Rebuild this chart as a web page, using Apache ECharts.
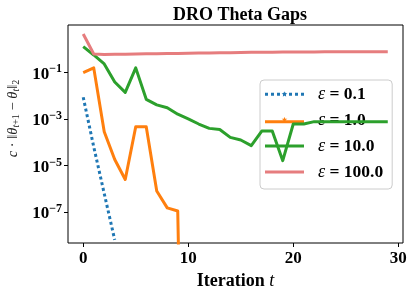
<!DOCTYPE html>
<html><head><meta charset="utf-8">
<script src="https://cdn.jsdelivr.net/npm/echarts@6/dist/echarts.min.js"></script>
<style>html,body{margin:0;padding:0;background:#fff}#c{width:414px;height:295px}</style>
</head><body><div id="c"></div>
<script>
// ---- data ----
const iterations = [0,1,2,3,4,5,6,7,8,9,10,11,12,13,14,15,16,17,18,19,20,21,22,23,24,25,26,27,28,29];
const epsilonLabels = ['0.1', '1.0', '10.0', '100.0'];
const gapEps01 = [8.5e-3, 6.3e-5, 6.2e-7, 6.3e-9];
const gapEps1 = [0.098, 0.155, 2.8e-4, 1.8e-5, 2.5e-6, 4.6e-4, 4.6e-4, 7.9e-7, 1.5e-7, 1.1e-7, 1e-30];
const gapEps10 = [1.27, 0.556, 0.229, 0.0385, 0.0138, 0.155, 6.9e-3, 4.0e-3, 3.0e-3, 1.58e-3,
  1.0e-3, 6.0e-4, 3.9e-4, 3.5e-4, 1.6e-4, 1.23e-4, 7.1e-5, 3.0e-4, 3.0e-4, 1.6e-5,
  6.0e-4, 6.0e-4, 7.6e-4, 7.6e-4, 7.6e-4, 7.6e-4, 7.6e-4, 7.6e-4, 7.6e-4, 7.6e-4];
const gapEps100 = [4.45, 0.61, 0.575, 0.59, 0.60, 0.61, 0.62, 0.63, 0.64, 0.65,
  0.66, 0.67, 0.68, 0.69, 0.70, 0.71, 0.72, 0.72, 0.73, 0.74,
  0.74, 0.75, 0.75, 0.76, 0.76, 0.76, 0.77, 0.77, 0.77, 0.77];
const xTickLabels = [0, 10, 20, 30];
const yTickExponents = [-7, -5, -3, -1];

// ---- chart ----
const SERIF = '"Liberation Serif", "DejaVu Serif", serif';
const yTicks = yTickExponents.map(e => Math.pow(10, e));
const colors = ['#1f77b4', '#ff7f0e', '#2ca02c', '#e67d7e'];
const seriesValues = [gapEps01, gapEps1, gapEps10, gapEps100];
const names = epsilonLabels.map(l => 'ε = ' + l);

function starPath(cx, cy, ro, ri) {
  let d = '';
  for (let k = 0; k < 10; k++) {
    const r = k % 2 === 0 ? ro : ri;
    const a = -Math.PI / 2 + k * Math.PI / 5;
    d += (k === 0 ? 'M' : 'L') + (cx + r * Math.cos(a)).toFixed(2) + ',' + (cy + r * Math.sin(a)).toFixed(2);
  }
  return d + 'Z';
}
let dotted = '';
for (let k = 0; k < 7; k++) { const x0 = k * 6; dotted += 'M' + x0 + ',0H' + (x0 + 3) + 'V3H' + x0 + 'Z'; }
const icons = [
  'path://' + dotted + starPath(19.5, 1.5, 3, 1.2),
  'path://M0,0H39V3H0Z' + starPath(19.5, -0.5, 3, 1.2),
  'path://M0,0H39V3H0Z',
  'path://M0,0H39V3H0Z'
];

const chart = echarts.init(document.getElementById('c'), null, {renderer: 'canvas'});
chart.setOption({
  animation: false,
  backgroundColor: '#fff',
  title: {
    text: 'DRO Theta Gaps', left: 235, top: 1, textAlign: 'center',
    textStyle: {fontFamily: SERIF, fontWeight: 'bold', fontSize: 18, color: '#000'}
  },
  grid: {left: 68, right: 11, top: 25, bottom: 52, show: true, borderColor: '#000', borderWidth: 1,
    containLabel: false, outerBoundsMode: 'none'},
  legend: {
    orient: 'vertical', left: 260, top: 80, z: 1,
    padding: [4, 9, 7, 5], itemGap: 6, itemWidth: 39, itemHeight: 14,
    backgroundColor: 'rgba(255,255,255,0.8)', borderColor: '#cccccc', borderWidth: 1, borderRadius: 4,
    itemStyle: {borderWidth: 0},
    data: names.map((n, i) => ({name: n, icon: icons[i]})),
    formatter: name => { const i = names.indexOf(name); return '{e|ε}{b| = ' + epsilonLabels[i] + '}'; },
    textStyle: {
      fontFamily: SERIF, color: '#000', lineHeight: 20,
      rich: {
        e: {fontFamily: SERIF, fontStyle: 'italic', fontWeight: 'normal', fontSize: 18, lineHeight: 20, padding: [0, 0, 0, 9], color: '#000'},
        b: {fontFamily: SERIF, fontWeight: 'bold', fontSize: 17.5, lineHeight: 20, color: '#000'}
      }
    }
  },
  xAxis: {
    type: 'value', min: -1.45, max: 30.45,
    axisLine: {show: false, onZero: false}, splitLine: {show: false},
    axisTick: {show: true, length: 4, customValues: xTickLabels, lineStyle: {color: '#000', width: 1}},
    axisLabel: {customValues: xTickLabels, margin: 7, fontFamily: SERIF, fontWeight: 'bold', fontSize: 17, color: '#000'},
    name: '{b|Iteration }{i|t}', nameLocation: 'middle', nameGap: 25,
    nameTextStyle: {
      rich: {
        b: {fontFamily: SERIF, fontWeight: 'bold', fontSize: 18, color: '#000'},
        i: {fontFamily: SERIF, fontStyle: 'italic', fontWeight: 'normal', fontSize: 18, color: '#000'}
      }
    }
  },
  yAxis: {
    type: 'log', logBase: 10, min: Math.pow(10, -8.333), max: Math.pow(10, 1.032),
    axisLine: {show: false, onZero: false}, splitLine: {show: false},
    axisTick: {show: true, length: 4, customValues: yTicks, lineStyle: {color: '#000', width: 1}},
    axisLabel: {
      customValues: yTicks, margin: 6,
      formatter: v => { const e = Math.round(Math.log10(v)); return '{b|10}{s|' + (e < 0 ? '−' : '') + Math.abs(e) + '}'; },
      rich: {
        b: {fontFamily: SERIF, fontWeight: 'bold', fontSize: 17, lineHeight: 18, padding: [4, 0, 0, 0], color: '#000'},
        s: {fontFamily: SERIF, fontWeight: 'bold', fontSize: 12, lineHeight: 12, verticalAlign: 'top', color: '#000'}
      }
    },
    name: '{i|c}{r| · ‖}{i|θ}{sb|t}{sr|+1}{r| − }{i|θ}{sb|t}{r|‖}{sr|2}',
    nameLocation: 'middle', nameRotate: 90, nameGap: 46,
    nameTextStyle: {
      padding: [0, 0, 0, 31],
      rich: {
        i: {fontFamily: SERIF, fontStyle: 'italic', fontSize: 14.5, lineHeight: 16, color: '#222'},
        r: {fontFamily: SERIF, fontSize: 14.5, lineHeight: 16, color: '#222'},
        sb: {fontFamily: SERIF, fontStyle: 'italic', fontSize: 10, lineHeight: 10, verticalAlign: 'bottom', color: '#222'},
        sr: {fontFamily: SERIF, fontSize: 10, lineHeight: 10, verticalAlign: 'bottom', color: '#222'}
      }
    }
  },
  series: seriesValues.map((vals, i) => ({
    name: names[i], type: 'line', z: 2,
    data: vals.map((v, k) => [iterations[k], v]),
    symbol: 'none', showSymbol: false, clip: true,
    itemStyle: {color: colors[i]},
    lineStyle: {color: colors[i], width: 3, join: 'round', type: i === 0 ? [3, 2.8] : 'solid'}
  }))
});
</script></body></html>
